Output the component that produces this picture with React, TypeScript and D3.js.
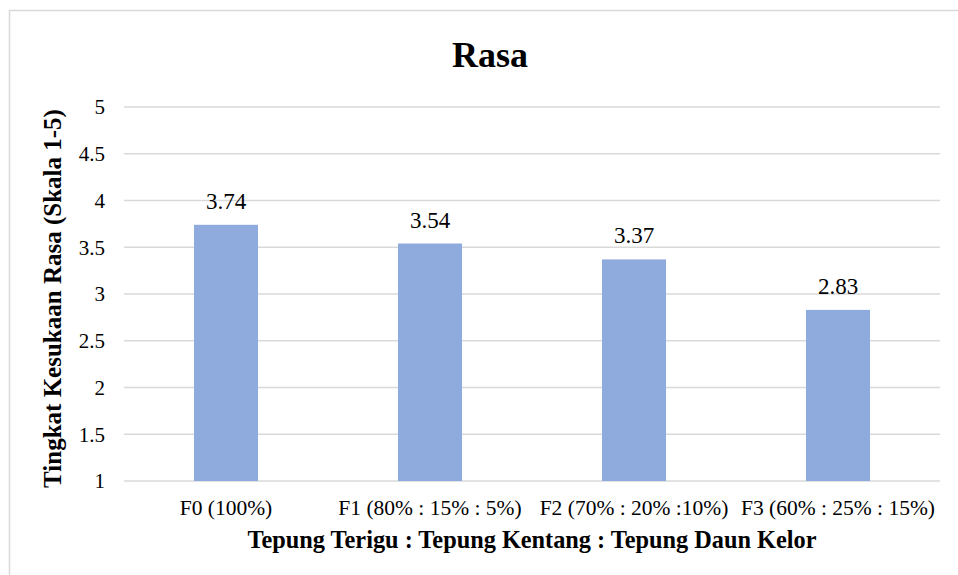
import React from "react";
import * as d3 from "d3";

const categories = ["F0 (100%)", "F1 (80% : 15% : 5%)", "F2 (70% : 20% :10%)", "F3 (60% : 25% : 15%)"];
const values = [3.74, 3.54, 3.37, 2.83];
const yTicks = [1, 1.5, 2, 2.5, 3, 3.5, 4, 4.5, 5];
const title = "Rasa";
const xTitle = "Tepung Terigu : Tepung Kentang : Tepung Daun Kelor";
const yTitle = "Tingkat Kesukaan Rasa (Skala 1-5)";

const W = 958;
const H = 575;
const FONT = "'Liberation Serif', 'Times New Roman', serif";

export default function App() {
  const x = d3.scaleBand<string>().domain(categories).range([124, 940]).paddingInner(0.686).paddingOuter(0.343);
  const y = d3.scaleLinear().domain([1, 5]).range([481, 107]);
  const fmt = d3.format("");
  return (
    <svg width={W} height={H} style={{ position: "absolute", left: 0, top: 0, display: "block" }} fontFamily={FONT}>
      <rect x={0} y={0} width={W} height={H} fill="#fff" />
      <rect x={9.5} y={10.5} width={W + 20} height={H + 20} fill="none" stroke="#d9d9d9" strokeWidth={1.5} />
      <text x={490} y={67} textAnchor="middle" fontSize={36} fontWeight="bold" fill="#000">{title}</text>
      {yTicks.map((t) => (
        <g key={t}>
          <line x1={124} x2={940} y1={y(t)} y2={y(t)} stroke="#d9d9d9" strokeWidth={1.5} />
          <text x={105} y={y(t)} dy="0.35em" textAnchor="end" fontSize={21} fill="#000">{fmt(t)}</text>
        </g>
      ))}
      {categories.map((c, i) => (
        <g key={c}>
          <rect x={x(c)} y={y(values[i])} width={x.bandwidth()} height={y(1) - y(values[i])} fill="#8faadc" />
          <text x={(x(c) ?? 0) + x.bandwidth() / 2} y={y(values[i]) - 16} textAnchor="middle" fontSize={23} fill="#000">{values[i].toFixed(2)}</text>
          <text x={(x(c) ?? 0) + x.bandwidth() / 2} y={515} textAnchor="middle" fontSize={21.5} fill="#000">{c}</text>
        </g>
      ))}
      <text x={532} y={548} textAnchor="middle" fontSize={24.3} fontWeight="bold" fill="#000">{xTitle}</text>
      <text transform={`translate(61,${(107 + 490) / 2}) rotate(-90)`} textAnchor="middle" fontSize={25} fontWeight="bold" fill="#000">{yTitle}</text>
    </svg>
  );
}
